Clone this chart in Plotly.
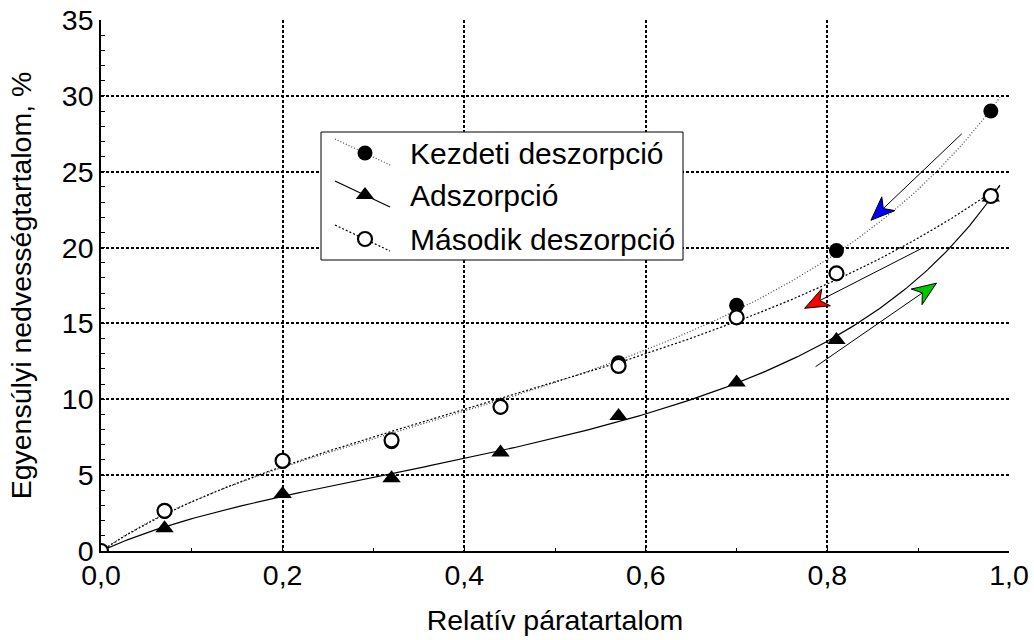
import numpy as np
import plotly.graph_objects as go

# Relative humidity (x) and equilibrium moisture content (%) for each run
rh = [0.0, 0.07, 0.20, 0.32, 0.44, 0.57, 0.70, 0.81, 0.98]
kezdeti = [0.0, 2.6, 5.9, 7.2, 9.5, 12.4, 16.2, 19.8, 29.0]
adszorpcio = [0.0, 1.5, 3.75, 4.8, 6.5, 8.9, 11.1, 13.9, 23.3]
masodik = [0.0, 2.65, 5.95, 7.3, 9.5, 12.2, 15.4, 18.3, 23.4]

x_ticks = [0.0, 0.2, 0.4, 0.6, 0.8, 1.0]
x_ticktext = ["0,0", "0,2", "0,4", "0,6", "0,8", "1,0"]
y_ticks = [0, 5, 10, 15, 20, 25, 30, 35]

# direction arrows: (start x, start y, tip x, tip y, fill colour)
arrows = [
    (0.948, 27.5, 0.848, 21.8, "#0000FF"),
    (0.904, 19.95, 0.775, 16.0, "#FF0000"),
    (0.787, 12.15, 0.920, 17.65, "#00C800"),
]

legend_labels = ["Kezdeti deszorpció", "Adszorpció", "Második deszorpció"]

W, H = 1034, 640
ML, MR, MT, MB = 101, 25, 20, 89
PW, PH = W - ML - MR, H - MT - MB
XR, YR = (0.0, 1.0), (0.0, 35.0)


def to_px(x, y):
    """data -> pixel offsets inside the plot area"""
    return ((x - XR[0]) / (XR[1] - XR[0]) * PW,
            (YR[1] - y) / (YR[1] - YR[0]) * PH)


def to_data(px, py):
    """pixel offsets inside the plot area -> data"""
    return (XR[0] + px / PW * (XR[1] - XR[0]),
            YR[1] - py / PH * (YR[1] - YR[0]))


def gab_curve(xs, ys, xmax=0.99):
    """GAB isotherm fitted in its linearised form x/w = a*x^2 + b*x + c,
    weighted so that residuals are measured in moisture content."""
    xs = np.asarray(xs, float)
    ys = np.asarray(ys, float)
    m = xs > 0
    wts = ys[m] ** 2 / xs[m]
    coef = np.polyfit(xs[m], xs[m] / ys[m], 2, w=wts)
    xf = np.linspace(0, xmax, 300)
    return xf, xf / np.polyval(coef, xf)


fig = go.Figure()

styles = [
    dict(ys=kezdeti, line=dict(color="#444444", width=1.2, dash="1px,2px"),
         marker=dict(symbol="circle", size=15, color="black")),
    dict(ys=adszorpcio, line=dict(color="black", width=1.2),
         marker=dict(symbol="triangle-up", size=16, color="black")),
    dict(ys=masodik, line=dict(color="black", width=1.2, dash="2px,2px"),
         marker=dict(symbol="circle", size=14, color="white",
                     line=dict(width=2.2, color="black"))),
]

for st in styles:
    xf, yf = gab_curve(rh, st["ys"])
    fig.add_trace(go.Scatter(x=xf, y=yf, mode="lines", line=st["line"],
                             showlegend=False, hoverinfo="skip"))
for st in styles:
    fig.add_trace(go.Scatter(x=rh, y=st["ys"], mode="markers",
                             marker=st["marker"], showlegend=False))

# arrow shafts and heads
shapes = []
for sx, sy, tx, ty, col in arrows:
    fig.add_trace(go.Scatter(x=[sx, tx], y=[sy, ty], mode="lines",
                             line=dict(color="black", width=1),
                             showlegend=False, hoverinfo="skip"))
    p0 = np.array(to_px(sx, sy))
    p1 = np.array(to_px(tx, ty))
    u = (p1 - p0) / np.linalg.norm(p1 - p0)
    n = np.array([-u[1], u[0]])
    L, Wd, notch = 24, 9.5, 7
    a = p1
    b = p1 - u * L + n * Wd
    c = p1 - u * (L - notch)
    d = p1 - u * L - n * Wd
    path = "M {:.2f},{:.2f} L {:.2f},{:.2f} L {:.2f},{:.2f} L {:.2f},{:.2f} Z".format(
        a[0], a[1], b[0], b[1], c[0], c[1], d[0], d[1])
    shapes.append(dict(type="path", path=path, xref="x2", yref="y2",
                       fillcolor=col, line=dict(color="black", width=1)))

# legend box: white panel above the grid, below the traces
bx0, by0 = to_data(321 - ML, 132 - MT)
bx1, by1 = to_data(683 - ML, 260 - MT)
shapes.append(dict(type="rect", xref="x", yref="y", x0=bx0, y0=by0,
                   x1=bx1, y1=by1, line=dict(color="black", width=1),
                   fillcolor="white", layer="between"))

rows_y = [153 - MT, 195 - MT, 239 - MT]
annotations = []
for i, (st, lab) in enumerate(zip(styles, legend_labels)):
    ym = rows_y[i]
    fig.add_trace(go.Scatter(x=[335 - ML, 390 - ML], y=[ym - 14, ym + 12],
                             xaxis="x2", yaxis="y2", mode="lines",
                             line=st["line"], showlegend=False, hoverinfo="skip"))
    fig.add_trace(go.Scatter(x=[365 - ML], y=[ym], xaxis="x2", yaxis="y2",
                             mode="markers", marker=st["marker"],
                             showlegend=False, hoverinfo="skip"))
    annotations.append(dict(x=408 - ML, y=ym, xref="x2", yref="y2", text=lab,
                            showarrow=False, xanchor="left", yanchor="middle",
                            font=dict(size=30, color="black")))

grid_dash = "3px,2px"
fig.update_layout(
    width=W, height=H,
    margin=dict(l=ML, r=MR, t=MT, b=MB, autoexpand=False),
    paper_bgcolor="white", plot_bgcolor="white",
    font=dict(family="Liberation Sans, Arial, sans-serif", color="black", size=28),
    shapes=shapes, annotations=annotations,
    xaxis=dict(range=list(XR), tickvals=x_ticks, ticktext=x_ticktext,
               automargin=False,
               showgrid=True, gridcolor="black", gridwidth=1.5, griddash=grid_dash,
               showline=True, linecolor="black", linewidth=1.5, zeroline=False,
               ticks="inside", ticklen=4, tickcolor="black", ticklabelstandoff=-2,
               minor=dict(ticks="inside", ticklen=3, dtick=0.1, tickcolor="black",
                          showgrid=False),
               title=dict(text="Relatív páratartalom", font=dict(size=28.5), standoff=20),
               tickfont=dict(size=28.5)),
    yaxis=dict(range=list(YR), tickvals=y_ticks,
               automargin=False,
               showgrid=True, gridcolor="black", gridwidth=1.5, griddash=grid_dash,
               showline=True, linecolor="black", linewidth=1.5, zeroline=False,
               ticks="inside", ticklen=4, tickcolor="black",
               minor=dict(ticks="inside", ticklen=4, dtick=1, tickcolor="black",
                          showgrid=False),
               title=dict(text="Egyensúlyi nedvességtartalom, %", font=dict(size=28.5),
                          standoff=22),
               tickfont=dict(size=28.5)),
    xaxis2=dict(overlaying="x", anchor="y2", range=[0, PW], visible=False,
                fixedrange=True),
    yaxis2=dict(overlaying="y", anchor="x2", range=[PH, 0], visible=False,
                fixedrange=True),
)

fig.write_html("out.html")
